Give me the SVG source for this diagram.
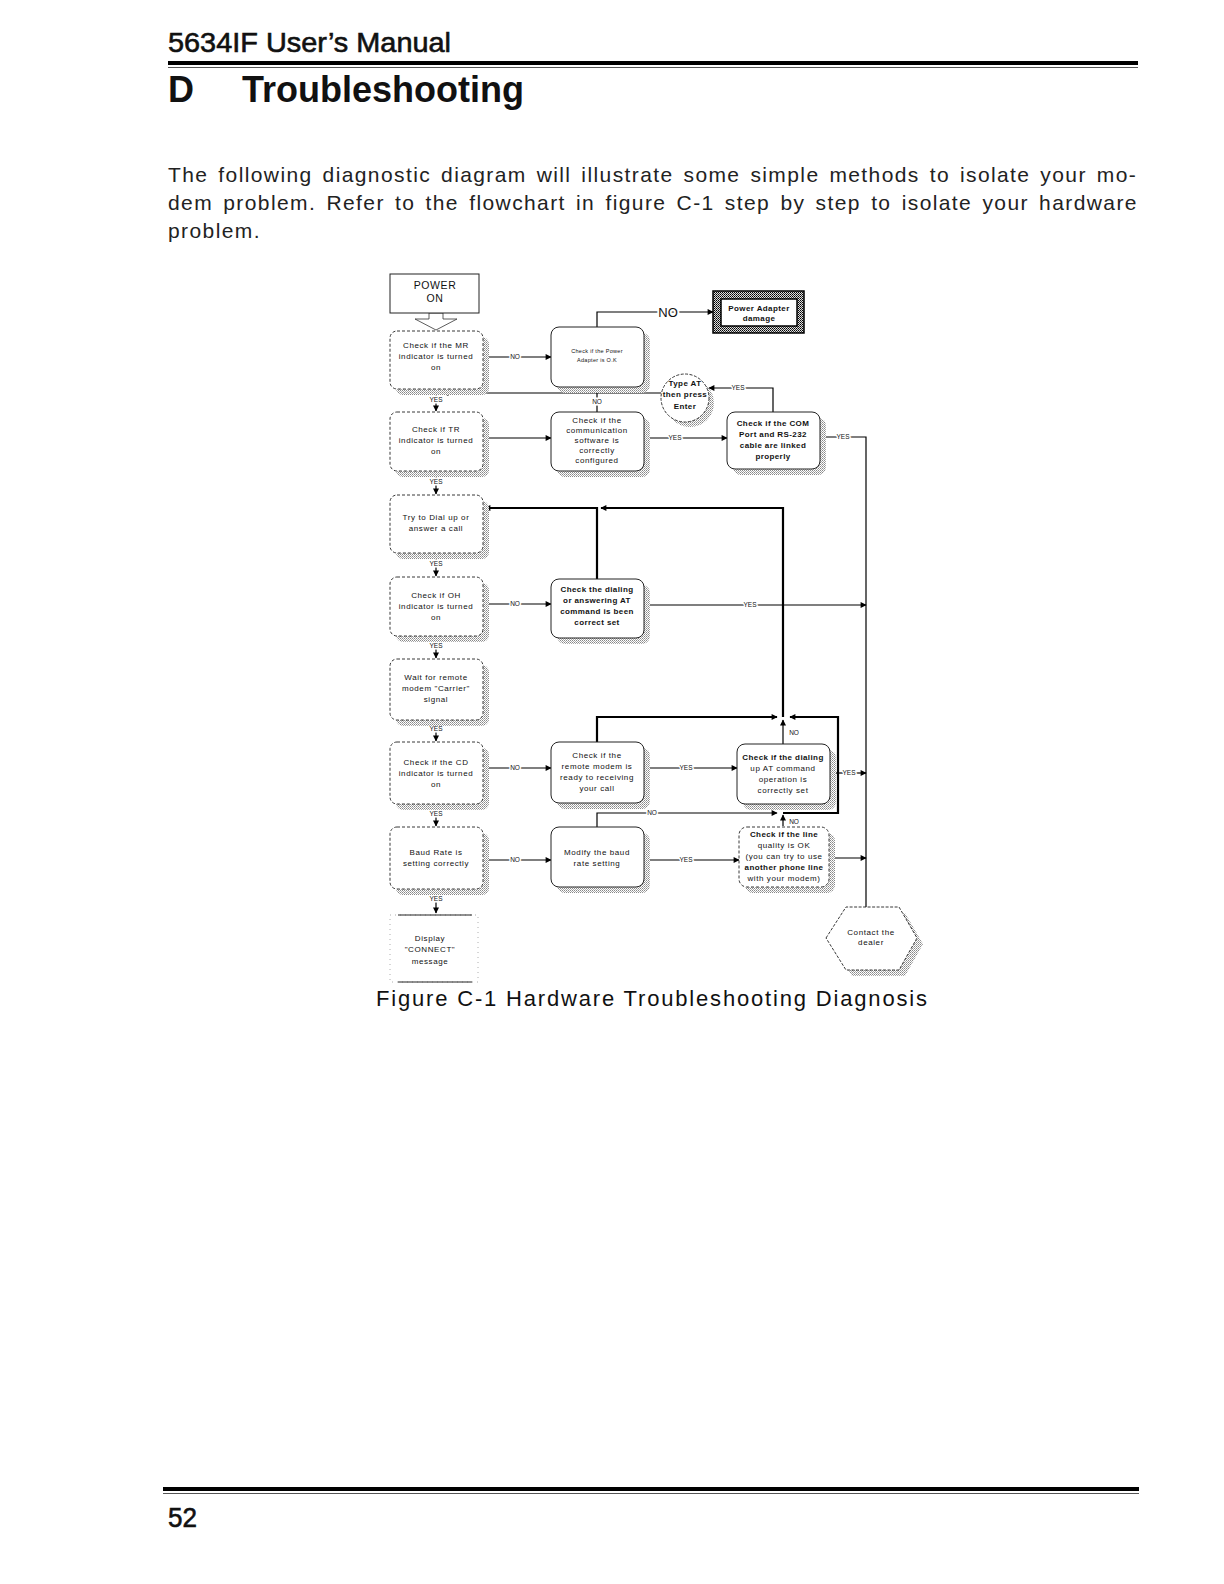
<svg xmlns="http://www.w3.org/2000/svg" width="1224" height="1584" viewBox="0 0 1224 1584">
<defs>
<style>
.pg{font-family:"Liberation Sans",Arial,sans-serif;fill:#111}
.body{font-size:21px;letter-spacing:1.4px;fill:#222}
.hd{stroke:#111;stroke-width:0.6px}
.t{font-family:"Liberation Sans",Arial,sans-serif;font-size:8px;text-anchor:middle;fill:#111;letter-spacing:0.6px}
.tb{font-weight:bold;letter-spacing:0.4px}
.tiny{font-size:5.5px;letter-spacing:0.3px}
.lbl{font-family:"Liberation Sans",Arial,sans-serif;font-size:6.5px;text-anchor:middle;fill:#111;paint-order:stroke;stroke:#fff;stroke-width:3px}
.c{fill:none;stroke:#000;stroke-width:1.2}
.ct{fill:none;stroke:#000;stroke-width:2.2}
.bx{fill:#fff;stroke:#222;stroke-width:1}
.bxl{fill:#fff;stroke:#222;stroke-width:0.9;stroke-dasharray:3 2}
.sh{fill:url(#stip)}
</style>
<pattern id="stip" width="2" height="2" patternUnits="userSpaceOnUse"><rect width="2" height="2" fill="#fff"/><rect width="1" height="1" fill="#888"/><rect x="1" y="1" width="1" height="1" fill="#aaa"/></pattern>
<pattern id="dark" width="2" height="2" patternUnits="userSpaceOnUse"><rect width="2" height="2" fill="#ddd"/><rect width="1" height="1" fill="#000"/><rect x="1" y="1" width="1" height="1" fill="#333"/></pattern>
<marker id="ah" viewBox="0 0 10 10" refX="9" refY="5" markerWidth="7" markerHeight="6" markerUnits="userSpaceOnUse" orient="auto"><path d="M0,0 L10,5 L0,10 z" fill="#000"/></marker>
</defs>
<rect width="1224" height="1584" fill="#fff"/>

<g id="page">
<text class="pg hd" x="168" y="52" font-size="28" textLength="283" lengthAdjust="spacingAndGlyphs">5634IF User’s Manual</text>
<rect x="168" y="61" width="970" height="4" fill="#000"/>
<rect x="168" y="67" width="970" height="1" fill="#555"/>
<text class="pg" x="168" y="102" font-size="36" font-weight="bold">D</text>
<text class="pg" x="242" y="102" font-size="36" font-weight="bold">Troubleshooting</text>
<text class="pg body" x="168" y="182" word-spacing="2.7">The following diagnostic diagram will illustrate some simple methods to isolate your mo-</text>
<text class="pg body" x="168" y="210" word-spacing="3">dem problem. Refer to the flowchart in figure C-1 step by step to isolate your hardware</text>
<text class="pg body" x="168" y="238">problem.</text>
<text class="pg" x="376" y="1006" font-size="22" textLength="551">Figure C-1 Hardware Troubleshooting Diagnosis</text>
<rect x="163" y="1487" width="976" height="4" fill="#000"/>
<rect x="163" y="1493" width="976" height="1" fill="#555"/>
<text class="pg hd" x="168" y="1527" font-size="27" textLength="29" lengthAdjust="spacingAndGlyphs">52</text>
</g>

<g id="connectors">
<polygon points="429,313 443,313 443,319 457,319 436,330 415,319 429,319" fill="#fff" stroke="#333" stroke-width="0.8"/>
<path class="c" d="M436,389 V411" marker-end="url(#ah)"/>
<text class="lbl" x="436" y="402">YES</text>
<path class="c" d="M483,357 H551" marker-end="url(#ah)"/>
<text class="lbl" x="515" y="359">NO</text>
<path class="c" d="M597,327 V312 H713" marker-end="url(#ah)"/>
<text class="lbl" x="668" y="317" style="font-size:13px;stroke-width:4px">NO</text>
<path class="c" d="M597,412 V393"/>
<path class="c" d="M661,393 H443" marker-end="url(#ah)"/>
<text class="lbl" x="597" y="404">NO</text>
<path class="c" d="M773,412 V388 H709" marker-end="url(#ah)"/>
<text class="lbl" x="738" y="390">YES</text>
<path class="c" d="M483,438 H551" marker-end="url(#ah)"/>
<path class="c" d="M644,438 H727" marker-end="url(#ah)"/>
<text class="lbl" x="675" y="440">YES</text>
<path class="c" d="M820,437 H866 V907"/>
<text class="lbl" x="843" y="439">YES</text>
<path class="c" d="M436,471 V494" marker-end="url(#ah)"/>
<text class="lbl" x="436" y="484">YES</text>
<path class="c" d="M436,553 V576" marker-end="url(#ah)"/>
<text class="lbl" x="436" y="566">YES</text>
<path class="c" d="M483,604 H551" marker-end="url(#ah)"/>
<text class="lbl" x="515" y="606">NO</text>
<path class="ct" d="M597,579 V508 H485" marker-end="url(#ah)"/>
<path class="ct" d="M783,717 V508 H601" marker-end="url(#ah)"/>
<path class="c" d="M644,605 H866" marker-end="url(#ah)"/>
<text class="lbl" x="750" y="607">YES</text>
<path class="c" d="M436,636 V658" marker-end="url(#ah)"/>
<text class="lbl" x="436" y="648">YES</text>
<path class="c" d="M436,720 V741" marker-end="url(#ah)"/>
<text class="lbl" x="436" y="731">YES</text>
<path class="c" d="M483,768 H551" marker-end="url(#ah)"/>
<text class="lbl" x="515" y="770">NO</text>
<path class="c" d="M644,768 H737" marker-end="url(#ah)"/>
<text class="lbl" x="686" y="770">YES</text>
<path class="c" d="M836,773 H866" marker-end="url(#ah)"/>
<text class="lbl" x="849" y="775">YES</text>
<path class="ct" d="M597,742 V717 H777" marker-end="url(#ah)"/>
<path class="c" d="M783,744 V720" marker-end="url(#ah)"/>
<text class="lbl" x="794" y="735">NO</text>
<path class="ct" d="M783,813 H838 V717 H790" marker-end="url(#ah)"/>
<path class="c" d="M597,827 V813 H777" marker-end="url(#ah)"/>
<text class="lbl" x="652" y="815">NO</text>
<path class="c" d="M783,826 V815" marker-end="url(#ah)"/>
<text class="lbl" x="794" y="824">NO</text>
<path class="c" d="M436,804 V826" marker-end="url(#ah)"/>
<text class="lbl" x="436" y="816">YES</text>
<path class="c" d="M483,860 H551" marker-end="url(#ah)"/>
<text class="lbl" x="515" y="862">NO</text>
<path class="c" d="M644,860 H739" marker-end="url(#ah)"/>
<text class="lbl" x="686" y="862">YES</text>
<path class="c" d="M829,858 H866" marker-end="url(#ah)"/>
<path class="c" d="M436,889 V913" marker-end="url(#ah)"/>
<text class="lbl" x="436" y="901">YES</text>
</g>

<g id="power-on">
<rect x="390" y="274" width="89" height="39" fill="#fff" stroke="#222" stroke-width="1"/>
<text class="t" x="435" y="289" style="font-size:10.5px">POWER</text>
<text class="t" x="435" y="302" style="font-size:10.5px">ON</text>
</g>

<g id="check-mr">
<rect class="sh" x="396" y="337" width="93" height="58" rx="7"/>
<rect class="bxl" x="390" y="331" width="93" height="58" rx="7"/>
<text class="t" x="436" y="348">Check if the MR</text>
<text class="t" x="436" y="359">indicator is turned</text>
<text class="t" x="436" y="370">on</text>
</g>

<g id="check-power-adapter">
<rect class="sh" x="557" y="333" width="93" height="60" rx="8"/>
<rect class="bx" x="551" y="327" width="93" height="60" rx="8"/>
<text class="t tiny" x="597" y="353">Check if the Power</text>
<text class="t tiny" x="597" y="362">Adapter is O.K</text>
</g>

<g id="power-adapter-damage">
<rect x="713" y="291" width="91" height="42" fill="url(#dark)" stroke="#000" stroke-width="1.5"/>
<rect x="721" y="299" width="76" height="27" fill="#fff" stroke="#000" stroke-width="1.5"/>
<text class="t tb" x="759" y="311">Power Adapter</text>
<text class="t tb" x="759" y="321">damage</text>
</g>

<g id="type-at">
<circle cx="690" cy="403" r="24" fill="url(#stip)"/>
<circle cx="685" cy="398" r="24" fill="#fff" stroke="#222" stroke-width="0.9" stroke-dasharray="3 1.5"/>
<text class="t tb" x="685" y="386">Type AT</text>
<text class="t tb" x="685" y="397">then press</text>
<text class="t tb" x="685" y="409">Enter</text>
</g>

<g id="check-tr">
<rect class="sh" x="396" y="418" width="93" height="59" rx="7"/>
<rect class="bxl" x="390" y="412" width="93" height="59" rx="7"/>
<text class="t" x="436" y="432">Check if TR</text>
<text class="t" x="436" y="443">indicator is turned</text>
<text class="t" x="436" y="454">on</text>
</g>

<g id="check-comm-software">
<rect class="sh" x="557" y="418" width="93" height="59" rx="8"/>
<rect class="bx" x="551" y="412" width="93" height="59" rx="8"/>
<text class="t" x="597" y="423">Check if the</text>
<text class="t" x="597" y="433">communication</text>
<text class="t" x="597" y="443">software is</text>
<text class="t" x="597" y="453">correctly</text>
<text class="t" x="597" y="463">configured</text>
</g>

<g id="check-com-port">
<rect class="sh" x="733" y="418" width="93" height="57" rx="8"/>
<rect class="bx" x="727" y="412" width="93" height="57" rx="8"/>
<text class="t tb" x="773" y="426">Check if the COM</text>
<text class="t tb" x="773" y="437">Port and RS-232</text>
<text class="t tb" x="773" y="448">cable are linked</text>
<text class="t tb" x="773" y="459">properly</text>
</g>

<g id="try-dial">
<rect class="sh" x="396" y="501" width="93" height="58" rx="7"/>
<rect class="bxl" x="390" y="495" width="93" height="58" rx="7"/>
<text class="t" x="436" y="520">Try to Dial up or</text>
<text class="t" x="436" y="531">answer a call</text>
</g>

<g id="check-oh">
<rect class="sh" x="396" y="583" width="93" height="59" rx="7"/>
<rect class="bxl" x="390" y="577" width="93" height="59" rx="7"/>
<text class="t" x="436" y="598">Check if OH</text>
<text class="t" x="436" y="609">indicator is turned</text>
<text class="t" x="436" y="620">on</text>
</g>

<g id="check-dialing-at">
<rect class="sh" x="557" y="585" width="93" height="59" rx="8"/>
<rect class="bx" x="551" y="579" width="93" height="59" rx="8"/>
<text class="t tb" x="597" y="592">Check the dialing</text>
<text class="t tb" x="597" y="603">or answering AT</text>
<text class="t tb" x="597" y="614">command is been</text>
<text class="t tb" x="597" y="625">correct set</text>
</g>

<g id="wait-carrier">
<rect class="sh" x="396" y="665" width="93" height="61" rx="7"/>
<rect class="bxl" x="390" y="659" width="93" height="61" rx="7"/>
<text class="t" x="436" y="680">Wait for remote</text>
<text class="t" x="436" y="691">modem "Carrier"</text>
<text class="t" x="436" y="702">signal</text>
</g>

<g id="check-cd">
<rect class="sh" x="396" y="748" width="93" height="62" rx="7"/>
<rect class="bxl" x="390" y="742" width="93" height="62" rx="7"/>
<text class="t" x="436" y="765">Check if the CD</text>
<text class="t" x="436" y="776">indicator is turned</text>
<text class="t" x="436" y="787">on</text>
</g>

<g id="check-remote-ready">
<rect class="sh" x="557" y="748" width="93" height="61" rx="8"/>
<rect class="bx" x="551" y="742" width="93" height="61" rx="8"/>
<text class="t" x="597" y="758">Check if the</text>
<text class="t" x="597" y="769">remote modem is</text>
<text class="t" x="597" y="780">ready to receiving</text>
<text class="t" x="597" y="791">your call</text>
</g>

<g id="check-dialing-up">
<rect class="sh" x="743" y="750" width="93" height="60" rx="8"/>
<rect class="bx" x="737" y="744" width="93" height="60" rx="8"/>
<text class="t tb" x="783" y="760">Check if the dialing</text>
<text class="t" x="783" y="771">up AT command</text>
<text class="t" x="783" y="782">operation is</text>
<text class="t" x="783" y="793">correctly set</text>
</g>

<g id="baud-rate">
<rect class="sh" x="396" y="833" width="93" height="62" rx="7"/>
<rect class="bxl" x="390" y="827" width="93" height="62" rx="7"/>
<text class="t" x="436" y="855">Baud Rate is</text>
<text class="t" x="436" y="866">setting correctly</text>
</g>

<g id="modify-baud">
<rect class="sh" x="557" y="833" width="93" height="60" rx="8"/>
<rect class="bx" x="551" y="827" width="93" height="60" rx="8"/>
<text class="t" x="597" y="855">Modify the baud</text>
<text class="t" x="597" y="866">rate setting</text>
</g>

<g id="check-line-quality">
<rect class="sh" x="745" y="833" width="90" height="60" rx="8"/>
<rect class="bxl" x="739" y="827" width="90" height="60" rx="8"/>
<text class="t tb" x="784" y="837">Check if the line</text>
<text class="t" x="784" y="848">quality is OK</text>
<text class="t" x="784" y="859">(you can try to use</text>
<text class="t tb" x="784" y="870">another phone line</text>
<text class="t" x="784" y="881">with your modem)</text>
</g>

<g id="display-connect">
<rect x="390" y="915" width="88" height="67" fill="#fff" stroke="#999" stroke-width="0.8" stroke-dasharray="1 4"/>
<line x1="398" y1="915" x2="472" y2="915" stroke="#222" stroke-width="1"/>
<line x1="398" y1="982" x2="472" y2="982" stroke="#222" stroke-width="1"/>
<text class="t" x="430" y="941">Display</text>
<text class="t" x="430" y="952">"CONNECT"</text>
<text class="t" x="430" y="964">message</text>
</g>

<g id="contact-dealer">
<polygon points="832,944 852,913 905,913 923,944 905,976 852,976" fill="url(#stip)"/>
<polygon points="826,938 846,907 899,907 917,938 899,970 846,970" fill="#fff" stroke="#222" stroke-width="0.9" stroke-dasharray="3 1.5"/>
<text class="t" x="871" y="935">Contact the</text>
<text class="t" x="871" y="945">dealer</text>
</g>
</svg>
